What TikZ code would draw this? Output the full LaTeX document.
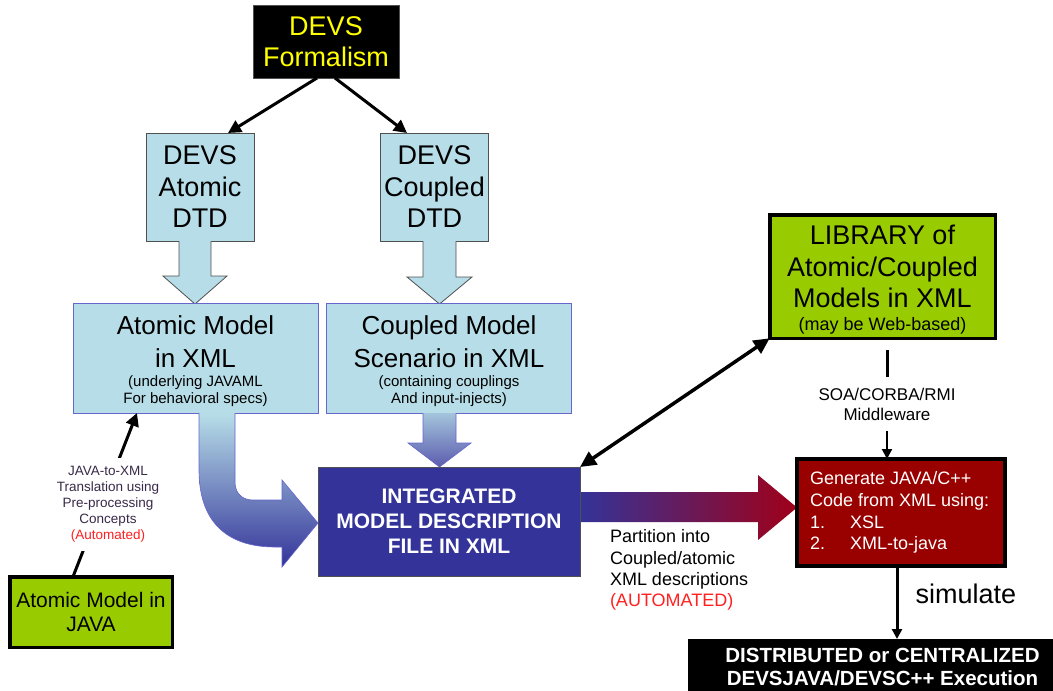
\documentclass[tikz,border=0pt]{standalone}
\usepackage{fontspec}
\setmainfont{Liberation Sans}
\usetikzlibrary{arrows.meta,calc}
\definecolor{lblue}{HTML}{B7DEE8}
\definecolor{dgray}{HTML}{505050}
\definecolor{xmlborder}{HTML}{6666CC}
\definecolor{navy}{HTML}{333399}
\definecolor{lime}{HTML}{99CC00}
\definecolor{dred}{HTML}{990000}
\definecolor{yel}{HTML}{FFFF00}
\definecolor{autored}{HTML}{FF2020}
\definecolor{arrred}{HTML}{A00018}
\definecolor{labpurple}{HTML}{3A2A4A}
\begin{document}
\begin{tikzpicture}[x=1pt,y=-1pt,
  every node/.style={inner sep=0pt, outer sep=0pt},
  formbox/.style={fill=black, draw=dgray, line width=1pt, text=yel, minimum width=146pt, minimum height=73pt, font=\fontsize{27}{31.5}\selectfont, align=center},
  dtdbox/.style={fill=lblue, draw=dgray, line width=1pt, minimum width=108pt, minimum height=108pt, font=\fontsize{27}{31.5}\selectfont, align=center},
  xmlbox/.style={fill=lblue, draw=xmlborder, line width=1pt, minimum width=245pt, minimum height=110pt},
  bigtxt/.style={font=\fontsize{26}{33}\selectfont, align=center},
  smalltxt/.style={font=\fontsize{15}{17}\selectfont, align=center},
  integbox/.style={fill=navy, draw=dgray, line width=1pt, minimum width=262pt, minimum height=109pt, text=white, font=\bfseries\fontsize{21}{25}\selectfont, align=center},
  greenbox/.style={fill=lime, draw=black, line width=3.5pt},
  libtxt/.style={font=\fontsize{27}{31.5}\selectfont, align=center},
  libsmall/.style={font=\fontsize{18}{20}\selectfont, align=center},
  genbox/.style={fill=dred, draw=black, line width=4pt, minimum width=208pt, minimum height=107pt},
  gentxt/.style={text=white, font=\fontsize{18}{21.7}\selectfont, align=left},
  distbox/.style={fill=black, minimum width=404pt, minimum height=62pt},
  disttxt/.style={text=white, font=\bfseries\fontsize{20.5}{23}\selectfont, align=center},
  soatxt/.style={font=\fontsize{17}{20}\selectfont, align=center, minimum height=54pt},
  parttxt/.style={font=\fontsize{18}{21.3}\selectfont, align=left},
  jlabel/.style={text=labpurple, font=\fontsize{13.5}{16}\selectfont, align=center, fill=white, minimum height=93pt},
  javatxt/.style={font=\fontsize{21}{23.5}\selectfont, align=center},
  simtxt/.style={font=\fontsize{27}{30}\selectfont},
  conn/.style={line width=3pt, -{Triangle[length=13pt,width=13pt]}},
  dbl/.style={line width=3.5pt, {Triangle[length=16pt,width=15pt]}-{Triangle[length=16pt,width=15pt]}},
  sarrow/.style={line width=2pt, -{Triangle[length=10pt,width=10pt]}},
]
\useasboundingbox (0,0) rectangle (1053,691);
\fill[white] (0,0) rectangle (1053,691);

% top boxes
\node[formbox] (form) at (326,41.5) {DEVS\\Formalism};
\node[dtdbox] (adtd) at (200,187) {DEVS\\Atomic\\DTD};
\node[dtdbox] (cdtd) at (434.5,187) {DEVS\\Coupled\\DTD};
\draw[conn] ([xshift=-9pt]form.south) -- ([xshift=28pt]adtd.north);
\draw[conn] ([xshift=9pt]form.south) -- ([xshift=-27.5pt]cdtd.north);

% block arrows from DTDs
\path[fill=lblue, draw=dgray, line width=0.8pt] (179,241) -- (179,276) -- (163,276) -- (195,304) -- (227,276) -- (211,276) -- (211,241);
\path[fill=lblue, draw=dgray, line width=0.8pt] (423,241) -- (423,277) -- (407,277) -- (439.5,304) -- (472,277) -- (456,277) -- (456,241);

% XML boxes
\node[xmlbox] (axml) at (195.5,358) {};
\node[bigtxt] (axmlT) at (195.5,341.5) {Atomic Model\\in XML};
\node[smalltxt] (axmlS) at (195.5,391.5) {(underlying JAVAML\\For behavioral specs)};
\node[xmlbox] (cxml) at (449,358) {};
\node[bigtxt] (cxmlT) at (449,341.5) {Coupled Model\\Scenario in XML};
\node[smalltxt] (cxmlS) at (449,391.5) {(containing couplings\\And input-injects)};

% gradient arrows into integrated box
\shade[top color=lblue!85!navy, bottom color=navy!80!white, draw=xmlborder, line width=0.6pt]
  (423,413) -- (423,443) -- (408,443) -- (439.5,467) -- (471,443) -- (456,443) -- (456,413);
\shade[top color=lblue, bottom color=navy, draw=xmlborder, line width=0.6pt]
  (199,413) -- (199,470) .. controls (199,520) and (225,547) .. (275,547) -- (282,547) -- (282,567) -- (318,523) -- (282,480) -- (282,500) -- (253,500) .. controls (242,500) and (235,493) .. (235,482) -- (235,413);
\shade[left color=navy, right color=arrred]
  (580,492) -- (758,492) -- (758,475) -- (797,507.5) -- (758,540) -- (758,522) -- (580,522) -- cycle;

\node[integbox] (integ) at (449,521.5) {INTEGRATED\\MODEL DESCRIPTION\\FILE IN XML};

% library
\node[greenbox, minimum width=225.5pt, minimum height=123.5pt] (lib) at (882.5,276.5) {};
\node[libtxt] (libT) at (882.5,266.5) {LIBRARY of\\Atomic/Coupled\\Models in XML};
\node[libsmall] (libS) at (882.5,326) {(may be Web-based)};
\draw[dbl] (integ.north east) -- (lib.south west);

% generate box
\node[genbox] (gen) at (901,512.5) {};
\node[gentxt, anchor=west] (genT) at (810,512.5) {Generate JAVA/C++\\Code from XML using:\\\makebox[40pt][l]{1.}XSL\\\makebox[40pt][l]{2.}XML-to-java};

% middleware
\coordinate (soaTop) at (887,350);
\node[soatxt] (soa) at (887,404) {SOA/CORBA/RMI\\Middleware};
\draw[line width=3pt] (soaTop) -- (soa.north);
\draw[sarrow] (soa.south) -- (soa.south |- gen.north);

% execution
\node[distbox] (dist) at (890,670) {};
\node[disttxt] (distT) at (882.5,667) {DISTRIBUTED or CENTRALIZED\\DEVSJAVA/DEVSC++ Execution};
\draw[sarrow, line width=3pt] ([xshift=-4pt]gen.south) -- ([xshift=-4pt]gen.south |- dist.north);
\node[simtxt] (sim) at (966,594) {simulate};

% partition label
\node[parttxt, anchor=west] (part) at (610,570) {Partition into\\Coupled/atomic\\XML descriptions\\\textcolor{autored}{(AUTOMATED)}};

% java box
\node[greenbox, minimum width=162.5pt, minimum height=70.5pt, javatxt] (java) at (91,612) {Atomic Model in\\JAVA};
\draw[conn] ([xshift=-18pt]java.north) -- ([xshift=-58.5pt]axml.south);
\node[jlabel] (jlab) at (108,504) {JAVA-to-XML\\Translation using\\Pre-processing\\Concepts\\\textcolor{autored}{(Automated)}};
\end{tikzpicture}
\end{document}
